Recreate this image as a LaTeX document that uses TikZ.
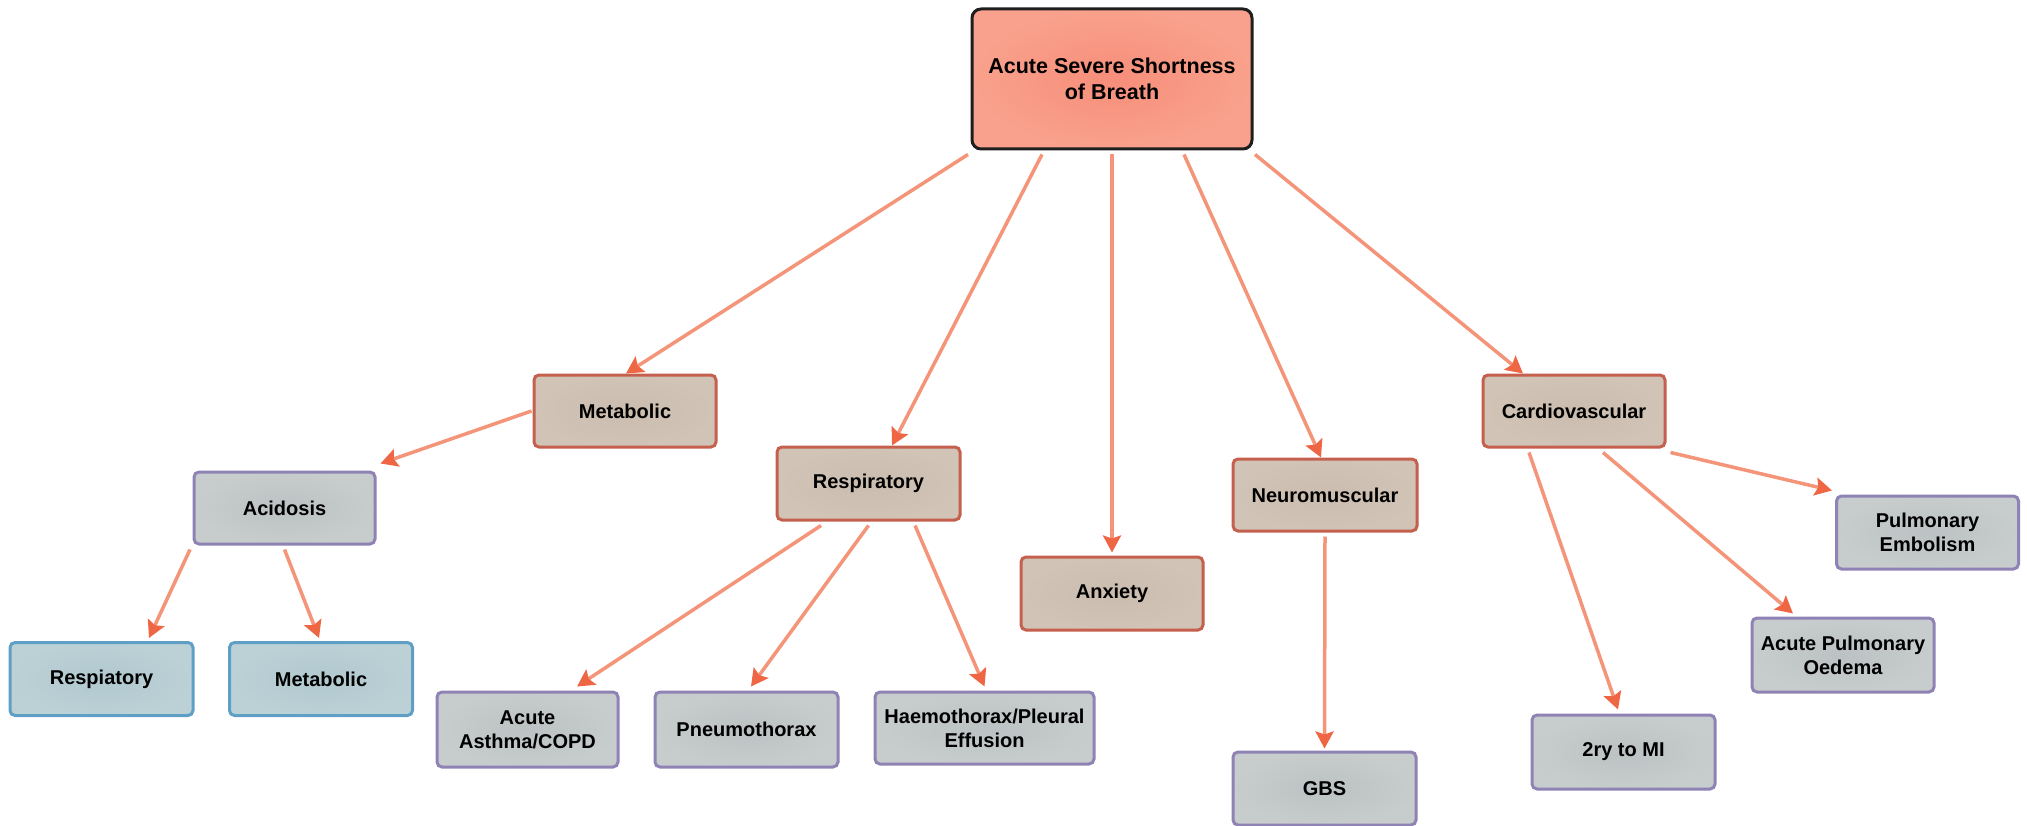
\documentclass[tikz,border=0pt]{standalone}
\usepackage{fontspec}
\setmainfont{Liberation Sans}
\usetikzlibrary{arrows.meta}
\definecolor{rootin}{HTML}{F68E7A}
\definecolor{rootout}{HTML}{F9A18C}
\definecolor{rootline}{HTML}{1E1E1E}
\definecolor{brin}{HTML}{CABCAE}
\definecolor{brout}{HTML}{D1C4B6}
\definecolor{brline}{HTML}{C4604D}
\definecolor{grin}{HTML}{BCC2C3}
\definecolor{grout}{HTML}{C7CCCC}
\definecolor{grline}{HTML}{8F82B5}
\definecolor{blin}{HTML}{B0C8CF}
\definecolor{blout}{HTML}{BCD1D6}
\definecolor{blline}{HTML}{5F9FC6}
\definecolor{arrline}{HTML}{F49478}
\definecolor{arrhead}{HTML}{EE6644}
\tikzset{
  box/.style={rounded corners=5pt, line width=3pt, align=center, inner sep=2pt,
    font=\fontsize{20}{24}\selectfont\bfseries, text=black, shading=radial},
  rootbox/.style={box, minimum width=280pt, minimum height=140pt, draw=rootline,
    inner color=rootin, outer color=rootout, rounded corners=9pt,
    font=\fontsize{21.5}{26}\selectfont\bfseries},
  brbox/.style={box, minimum width=182pt, minimum height=72pt, draw=brline,
    inner color=brin, outer color=brout},
  grbox/.style={box, minimum width=182pt, minimum height=73pt, draw=grline,
    inner color=grin, outer color=grout},
  blbox/.style={box, minimum width=183pt, minimum height=73pt, draw=blline,
    inner color=blin, outer color=blout},
  arr/.style={draw=arrline, line width=3.5pt,
    -{Stealth[length=17pt,width=18pt,inset=3pt,color=arrhead]}}
}
\begin{document}
\begin{tikzpicture}[x=1pt,y=-1pt]
\useasboundingbox (0,0) rectangle (2027,826);
\node[rootbox] (root) at (1112,79) {Acute Severe Shortness\\of Breath};
\node[brbox] (met) at (625,411) {Metabolic};
\node[grbox, minimum width=181pt, minimum height=72pt] (acid) at (284.5,508) {Acidosis};
\node[brbox, minimum width=183pt, minimum height=73pt] (resp) at (868.5,483.5) {Respiratory};
\node[brbox, minimum height=73pt] (anx) at (1112,593.5) {Anxiety};
\node[brbox, minimum width=184pt] (neuro) at (1325,495) {Neuromuscular};
\node[brbox] (cardio) at (1574,411) {Cardiovascular};
\node[blbox] (rblue) at (101.5,679) {Respiatory};
\node[blbox] (mblue) at (321,679) {Metabolic};
\node[grbox, minimum width=181pt, minimum height=75pt] (asthma) at (527.5,729.5) {Acute\\Asthma/COPD};
\node[grbox, minimum width=183pt, minimum height=75pt] (pneumo) at (746.5,729.5) {Pneumothorax};
\node[grbox, minimum width=219pt, minimum height=72pt] (haemo) at (984.5,728) {Haemothorax/Pleural\\Effusion};
\node[grbox, minimum width=183pt] (gbs) at (1324.5,788.5) {GBS};
\node[grbox, minimum width=183pt, minimum height=74pt] (mi) at (1623.5,752) {2ry to MI};
\node[grbox, minimum height=74pt] (apo) at (1843,655) {Acute Pulmonary\\Oedema};
\node[grbox] (pe) at (1927.5,532.5) {Pulmonary\\Embolism};
% connectors
\draw[arr] ([xshift=-144pt,yshift=-4pt]root.south) -- ([xshift=1pt]met.north);
\draw[arr] ([xshift=-70pt,yshift=-4pt]root.south) -- ([xshift=23.5pt]resp.north);
\draw[arr] ([yshift=-4pt]root.south) -- ([yshift=3pt]anx.north);
\draw[arr] ([xshift=72pt,yshift=-4pt]root.south) -- ([xshift=-4pt]neuro.north);
\draw[arr] ([xshift=143pt,yshift=-4pt]root.south) -- ([xshift=-51pt]cardio.north);
\draw[arr] ([xshift=-1pt]met.west) -- ([xshift=4pt,yshift=7pt]acid.north east);
\draw[arr] ([xshift=-94.5pt,yshift=-4pt]acid.south) -- ([xshift=47.5pt,yshift=3pt]rblue.north);
\draw[arr] ([yshift=-4pt]acid.south) -- ([xshift=-2pt,yshift=3pt]mblue.north);
\draw[arr] ([xshift=-47.5pt,yshift=-4pt]resp.south) -- ([xshift=49.5pt,yshift=4pt]asthma.north);
\draw[arr] ([yshift=-4pt]resp.south) -- ([xshift=4.5pt,yshift=4pt]pneumo.north);
\draw[arr] ([xshift=46.5pt,yshift=-4pt]resp.south) -- ([yshift=4pt]haemo.north);
\draw[arr] ([yshift=-4pt]neuro.south) -- ([yshift=2pt]gbs.north);
\draw[arr] ([xshift=-45pt,yshift=-4pt]cardio.south) -- ([xshift=-5.5pt,yshift=4pt]mi.north);
\draw[arr] ([xshift=29pt,yshift=-4pt]cardio.south) -- ([xshift=-50pt,yshift=3pt]apo.north);
\draw[arr] ([xshift=4pt,yshift=-4pt]cardio.south east) -- ([xshift=-3pt,yshift=4pt]pe.north west);
\end{tikzpicture}
\end{document}
